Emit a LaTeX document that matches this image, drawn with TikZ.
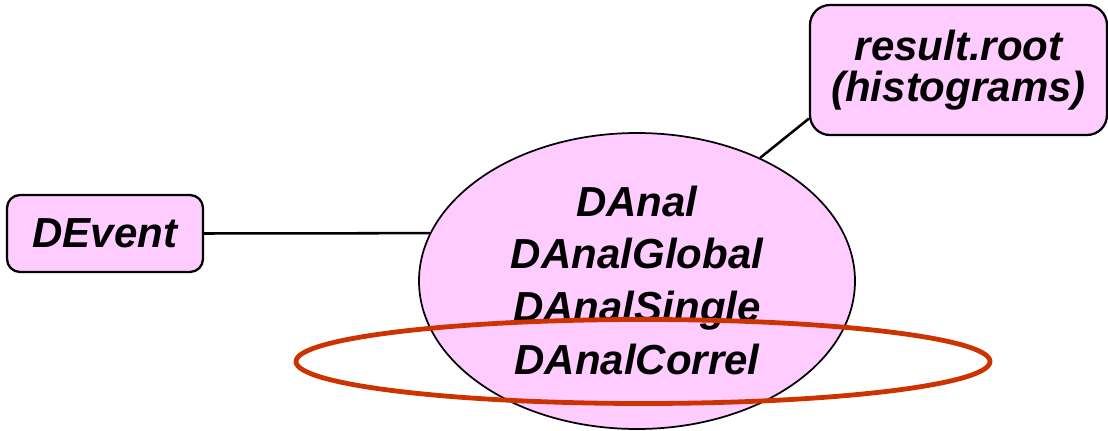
\documentclass[tikz,border=0pt]{standalone}
\usepackage{fontspec}
\setmainfont{Liberation Sans}
\usetikzlibrary{shapes.geometric}
\definecolor{boxpink}{HTML}{FFCCFF}
\definecolor{ringred}{HTML}{CC3300}
\tikzset{
  lbl/.style={font=\fontsize{31.5}{39.5}\selectfont\bfseries\itshape, align=center, inner sep=0pt},
  classbox/.style={lbl, draw=black, line width=1.7pt, fill=boxpink},
  wire/.style={draw=black, line width=1.9pt},
}
\begin{document}
\begin{tikzpicture}[x=0.75pt, y=-0.75pt]
  \useasboundingbox (0,0) rectangle (1108,431);

  % central analysis classes
  \node[classbox, ellipse, line width=1.3pt, minimum width=327pt, minimum height=222pt]
    (anal) at (637,281) {};
  \node[lbl] (analtxt) at (637,280)
    {DAnal\\DAnalGlobal\\DAnalSingle\\DAnalCorrel};

  % input event and output file
  \node[classbox, rounded corners=9.75pt, minimum width=147pt, minimum height=57.75pt]
    (devent) at (105,233.5) {DEvent};
  \node[classbox, rounded corners=15pt, minimum width=222.75pt, minimum height=97.5pt,
        font=\fontsize{31.5}{30.75}\selectfont\bfseries\itshape]
    (result) at (958.5,70) {result.root\\(histograms)};

  \draw[wire] (devent.east) -- (anal.167);
  \draw[wire] (result.198.6) -- (anal.45);

  % highlight ring around the correlation class
  \node[ellipse, draw=ringred, line width=3.6pt, minimum width=520.5pt, minimum height=63pt]
    (ring) at (643,361.5) {};
\end{tikzpicture}
\end{document}
